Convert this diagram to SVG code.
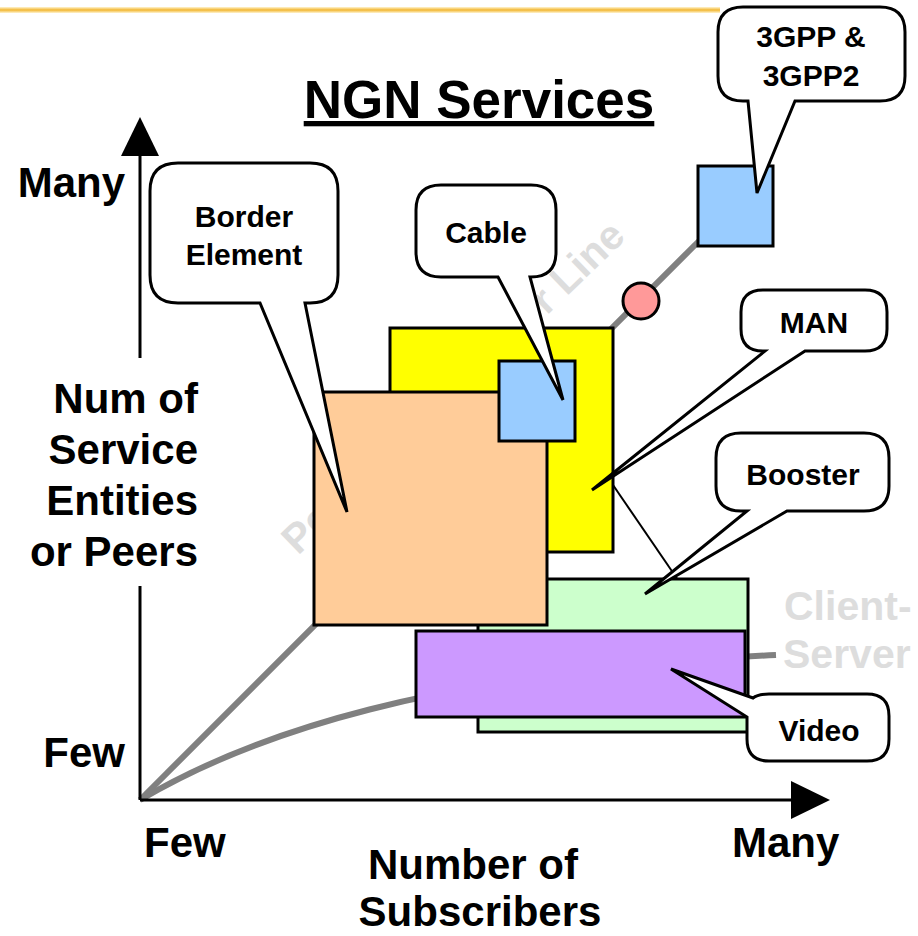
<svg xmlns="http://www.w3.org/2000/svg" width="918" height="936" viewBox="0 0 918 936">
<defs>
<linearGradient id="hdr" x1="0" y1="0" x2="0" y2="1">
<stop offset="0" stop-color="#FFF4D0"/>
<stop offset="0.5" stop-color="#F2B631"/>
<stop offset="1" stop-color="#FFF4D0"/>
</linearGradient>
</defs>
<style>
text{font-family:"Liberation Sans",Arial,sans-serif;font-weight:bold;}
.lbl{font-size:42px;fill:#000;}
.call{font-size:30px;fill:#000;text-anchor:middle;}
.wm{font-size:41px;fill:#DDDDDD;}
.box{stroke:#000;stroke-width:3;}
.bubble{fill:#fff;stroke:#000;stroke-width:3;stroke-linejoin:miter;}
.axis{stroke:#000;stroke-width:3;fill:none;}
.trend{stroke:#808080;stroke-width:6;fill:none;}
</style>
<rect width="918" height="936" fill="#fff"/>
<rect x="0" y="7" width="720" height="6" fill="url(#hdr)"/>

<g id="title">
<text x="479" y="118" style="font-size:53px;text-anchor:middle;text-decoration:underline;">NGN Services</text>
</g>

<g id="connectors">
<path class="trend" d="M140,800 L700,240"/>
<path class="trend" d="M140,800 C250,735 430,672 776,655"/>
<line x1="613" y1="485" x2="678" y2="580" stroke="#000" stroke-width="2"/>
</g>

<g id="watermarks">
<text class="wm" transform="translate(298,556) rotate(-44)">Peer-to-Pee<tspan dx="118">r Line</tspan></text>
<text class="wm" x="784" y="620">Client-</text>
<text class="wm" x="783" y="668">Server</text>
</g>

<g id="axes">
<line class="axis" x1="140" y1="800" x2="140" y2="586"/>
<line class="axis" x1="140" y1="358" x2="140" y2="150"/>
<polygon points="140,117 121,156 159,156" fill="#000"/>
<line class="axis" x1="140" y1="800" x2="795" y2="800"/>
<polygon points="830,800 791,781 791,819" fill="#000"/>
<text class="lbl" x="125" y="197" text-anchor="end">Many</text>
<text class="lbl" x="125" y="767" text-anchor="end">Few</text>
<text class="lbl" text-anchor="end"><tspan x="198" y="413">Num of</tspan><tspan x="198" y="464">Service</tspan><tspan x="198" y="515">Entities</tspan><tspan x="198" y="566">or Peers</tspan></text>
<text class="lbl" x="144" y="857">Few</text>
<text class="lbl" x="732" y="857">Many</text>
<text class="lbl" text-anchor="middle"><tspan x="473" y="879">Number of</tspan><tspan x="480" y="926">Subscribers</tspan></text>
</g>

<g id="man-box"><rect class="box" x="390" y="328" width="223" height="224" fill="#FFFF00"/></g>
<g id="booster-box"><rect class="box" x="478" y="579" width="270" height="153" fill="#CCFFCC"/></g>
<g id="border-box"><rect class="box" x="314" y="392" width="233" height="233" fill="#FFCC99"/></g>
<g id="cable-box"><rect class="box" x="499" y="361" width="76" height="80" fill="#99CCFF"/></g>
<g id="video-box"><rect class="box" x="416" y="631" width="329" height="86" fill="#CC99FF"/></g>
<g id="3gpp-box"><rect class="box" x="698" y="166" width="75" height="80" fill="#99CCFF"/></g>
<g id="node-circle"><circle cx="641" cy="301" r="18" fill="#FF9999" stroke="#000" stroke-width="3"/></g>

<g id="callout-border">
<path class="bubble" d="M178,163 H310 Q338,163 338,191 V275 Q338,303 310,303 H305 L347,512 L260,303 H178 Q150,303 150,275 V191 Q150,163 178,163 Z"/>
<text class="call"><tspan x="244" y="227">Border</tspan><tspan x="244" y="265">Element</tspan></text>
</g>
<g id="callout-cable">
<path class="bubble" d="M441,185 H531 Q556,185 556,210 V252 Q556,277 531,277 H530 L563,400 L498,277 H441 Q416,277 416,252 V210 Q416,185 441,185 Z"/>
<text class="call" x="486" y="243">Cable</text>
</g>
<g id="callout-3gpp">
<path class="bubble" d="M743,7 H880 Q905,7 905,32 V76 Q905,101 880,101 H795 L757,193 L748,101 H743 Q718,101 718,76 V32 Q718,7 743,7 Z"/>
<text class="call"><tspan x="811" y="47">3GPP &amp;</tspan><tspan x="811" y="86">3GPP2</tspan></text>
</g>
<g id="callout-man">
<path class="bubble" d="M763,290 H865 Q887,290 887,312 V329 Q887,351 865,351 H805 L592,490 L765,351 H763 Q741,351 741,329 V312 Q741,290 763,290 Z"/>
<text class="call" x="814" y="333">MAN</text>
</g>
<g id="callout-booster">
<path class="bubble" d="M741,433 H864 Q889,433 889,458 V486 Q889,511 864,511 H787 L645,594 L747,511 H741 Q716,511 716,486 V458 Q716,433 741,433 Z"/>
<text class="call" x="803" y="485">Booster</text>
</g>
<g id="callout-video">
<path class="bubble" d="M769,694 H867 Q889,694 889,716 V739 Q889,761 867,761 H769 Q747,761 747,739 V717 L671,669 L753,698 Q758,694 769,694 Z"/>
<text class="call" x="819" y="741">Video</text>
</g>
</svg>
